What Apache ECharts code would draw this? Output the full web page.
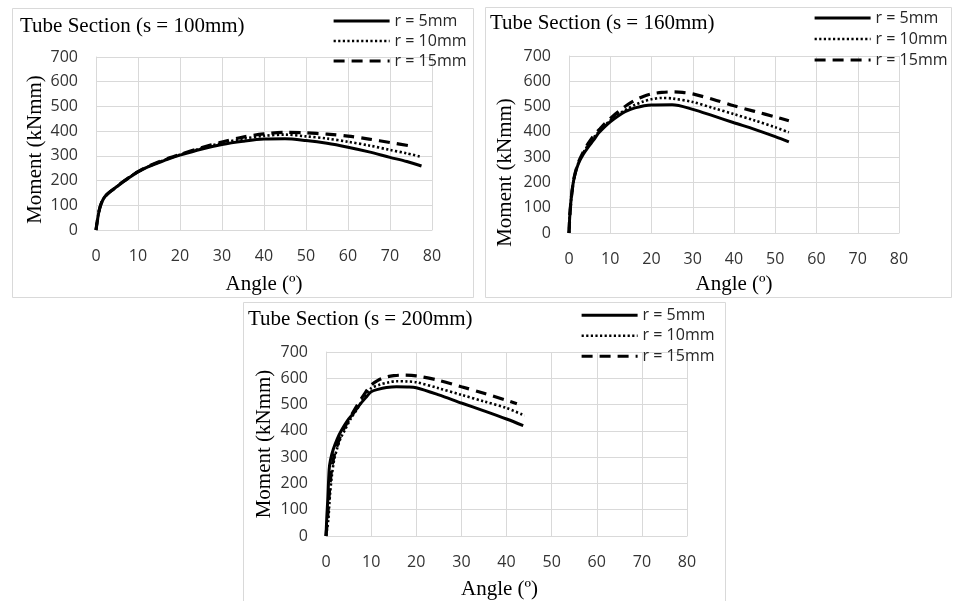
<!DOCTYPE html>
<html>
<head>
<meta charset="utf-8">
<script src="https://cdn.jsdelivr.net/npm/echarts@6/dist/echarts.min.js"></script>
<style>
html,body{margin:0;padding:0;background:#ffffff;}
#chart{width:955px;height:601px;}
</style>
</head>
<body>
<div id="chart"></div>
<script>
// ---------- DATA ----------
const seriesNames = ['r = 5mm', 'r = 10mm', 'r = 15mm'];
const panelTitles = ['Tube Section (s = 100mm)', 'Tube Section (s = 160mm)', 'Tube Section (s = 200mm)'];
const xAxisTitle = 'Angle (º)';
const yAxisTitle = 'Moment (kNmm)';
const xAxisMin = 0, xAxisMax = 80, xAxisStep = 10;
const yAxisMin = 0, yAxisMax = 700, yAxisStep = 100;

// Panel 1: s = 100mm
const s100_r5_x  = [0, 0.3, 0.7, 1.2, 1.8, 2.5, 3.5, 5, 6.5, 8, 10, 12.5, 15, 17.5, 20, 25, 30, 35, 40, 45, 50, 55, 60, 65, 70, 74, 77.5];
const s100_r5_y  = [0, 35, 75, 105, 127, 142, 157, 176, 195, 213, 235, 256, 273, 289, 303, 327, 346, 359, 368, 369, 362, 351, 335, 316, 294, 277, 259];
const s100_r10_x = [0, 0.3, 0.7, 1.2, 1.8, 2.5, 3.5, 5, 6.5, 8, 10, 12.5, 15, 17.5, 20, 25, 30, 35, 40, 45, 50, 55, 60, 65, 70, 74, 77.2];
const s100_r10_y = [0, 35, 75, 105, 127, 142, 157, 176, 196, 214, 236, 257, 275, 291, 305, 330, 352, 369, 381, 386, 379, 370, 357, 342, 324, 310, 297];
const s100_r15_x = [0, 0.3, 0.7, 1.2, 1.8, 2.5, 3.5, 5, 6.5, 8, 10, 12.5, 15, 17.5, 20, 25, 30, 35, 40, 45, 50, 55, 60, 65, 70, 75.3];
const s100_r15_y = [0, 35, 75, 105, 127, 142, 157, 176, 196, 214, 236, 258, 276, 292, 306, 332, 356, 376, 389, 395, 393, 388, 380, 368, 354, 339];

// Panel 2: s = 160mm
const s160_r5_x  = [0, 0.2, 0.5, 1, 1.5, 2.3, 3.5, 4.7, 6, 7.1, 8.5, 10, 12, 13.6, 16, 20, 25, 30, 35, 40, 45, 50, 53.3];
const s160_r5_y  = [0, 70, 130, 196, 235, 275, 312, 341, 368, 394, 418, 440, 464, 480, 495, 506, 507, 489, 463, 436, 410, 381, 360];
const s160_r10_x = [0, 0.2, 0.5, 1, 1.5, 2.3, 3.5, 4.7, 6, 7.5, 9, 10.5, 12, 14, 16, 18, 20, 22.5, 25, 30, 35, 40, 45, 50, 53.3];
const s160_r10_y = [0, 70, 130, 196, 235, 278, 318, 350, 378, 405, 430, 452, 470, 490, 507, 520, 529, 534, 532, 518, 494, 470, 445, 418, 398];
const s160_r15_x = [0, 0.2, 0.5, 1, 1.5, 2.3, 3.5, 4.7, 6, 7.5, 9, 10.5, 12, 14, 16, 18, 20, 22.5, 25, 27.5, 30, 35, 40, 45, 50, 53.3];
const s160_r15_y = [0, 70, 130, 196, 238, 280, 322, 355, 385, 412, 438, 460, 480, 505, 525, 540, 550, 556, 558, 556, 550, 528, 503, 481, 459, 444];

// Panel 3: s = 200mm
const s200_r5_x  = [0, 0.2, 0.4, 0.7, 1, 1.6, 2.5, 3.5, 4.8, 6.1, 7.5, 9, 10, 11.5, 13.4, 15.6, 18, 20, 25, 30, 35, 40, 43.7];
const s200_r5_y  = [0, 80, 140, 253, 290, 329, 370, 404, 440, 467, 500, 530, 549, 558, 565, 568, 567, 564, 537, 506, 476, 445, 420];
const s200_r10_x = [0, 0.5, 0.7, 0.9, 1.3, 1.8, 2.4, 3.2, 4.2, 5.5, 6.8, 8.2, 10, 12, 14, 15.6, 18, 20, 25, 30, 35, 40, 44];
const s200_r10_y = [0, 60, 110, 160, 230, 290, 329, 370, 404, 447, 480, 520, 562, 576, 585, 589, 588, 585, 562, 537, 512, 487, 458];
const s200_r15_x = [0, 0.3, 0.6, 0.9, 1.3, 1.8, 2.5, 3.3, 4.5, 5.8, 7, 8.5, 10, 11.5, 13.4, 15, 17, 20, 25, 30, 35, 40, 42.3];
const s200_r15_y = [0, 60, 130, 200, 260, 305, 345, 385, 425, 465, 500, 540, 574, 592, 605, 610, 612, 609, 592, 568, 543, 516, 503];

// ---------- BUILD ----------
function pairs(xs, ys) { return xs.map((x, i) => [x, ys[i]]); }
const panelData = [
  [pairs(s100_r5_x, s100_r5_y), pairs(s100_r10_x, s100_r10_y), pairs(s100_r15_x, s100_r15_y)],
  [pairs(s160_r5_x, s160_r5_y), pairs(s160_r10_x, s160_r10_y), pairs(s160_r15_x, s160_r15_y)],
  [pairs(s200_r5_x, s200_r5_y), pairs(s200_r10_x, s200_r10_y), pairs(s200_r15_x, s200_r15_y)]
];

const layout = [
  { grid: {left: 96, top: 57, width: 336, height: 173}, box: [12, 8, 461, 289],
    title: [20, 16], legend: [332, 11, 20], yPad: 12, yGap: 50, xGap: 44, xPad: 0 },
  { grid: {left: 569, top: 56, width: 330, height: 177}, box: [485, 7, 466, 290],
    title: [490, 13], legend: [813, 7.5, 21], yPad: 56, yGap: 53, xGap: 41, xPad: 0 },
  { grid: {left: 326, top: 352, width: 361, height: 185}, box: [243, 302, 482, 310],
    title: [248, 309], legend: [580, 305, 20.5], yPad: 0, yGap: 51, xGap: 43, xPad: 14 }
];

const lineStyles = [
  { color: '#000000', width: 3, type: 'solid' },
  { color: '#000000', width: 2.6, type: [2.2, 2.4] },
  { color: '#000000', width: 3.2, type: [11, 7] }
];

const tickFont = { fontFamily: 'Open Sans', fontSize: 16, color: '#333333' };
const serifFont = 'Liberation Serif';

const option = {
  backgroundColor: '#ffffff',
  animation: false,
  title: [], legend: [], grid: [], xAxis: [], yAxis: [], series: [], graphic: []
};

layout.forEach((L, p) => {
  option.graphic.push({
    type: 'rect', silent: true, z: -10,
    shape: { x: L.box[0] + 0.5, y: L.box[1] + 0.5, width: L.box[2], height: L.box[3] },
    style: { fill: 'none', stroke: '#d9d9d9', lineWidth: 1 }
  });
  option.title.push({
    text: panelTitles[p], left: L.title[0], top: L.title[1], padding: 0,
    textStyle: { fontFamily: serifFont, fontSize: 21, fontWeight: 'normal', color: '#000000' }
  });
  option.legend.push({
    data: seriesNames.map((nm, k) => ({
      name: nm,
      lineStyle: { color: '#000000', width: lineStyles[k].width, type: lineStyles[k].type, opacity: 1 }
    })),
    orient: 'vertical', left: L.legend[0], top: L.legend[1],
    padding: 0, itemGap: 0, itemWidth: 56, itemHeight: 14,
    itemStyle: { opacity: 0, borderWidth: 0 },
    textStyle: { fontFamily: 'Open Sans', fontSize: 16, color: '#262626', lineHeight: L.legend[2] },
    selectedMode: false
  });
  option.grid.push(Object.assign({ containLabel: false }, L.grid));
  option.xAxis.push({
    type: 'value', gridIndex: p, min: xAxisMin, max: xAxisMax, interval: xAxisStep,
    name: xAxisTitle, nameLocation: 'middle', nameGap: L.xGap,
    nameTextStyle: { fontFamily: serifFont, fontSize: 21, color: '#000000', padding: [0, L.xPad, 0, 0] },
    axisLine: { show: true, lineStyle: { color: '#d9d9d9', width: 1 } },
    axisTick: { show: false },
    axisLabel: Object.assign({ margin: 18 }, tickFont),
    splitLine: { show: true, lineStyle: { color: '#d9d9d9', width: 1 } }
  });
  option.yAxis.push({
    type: 'value', gridIndex: p, min: yAxisMin, max: yAxisMax, interval: yAxisStep,
    name: yAxisTitle, nameLocation: 'middle', nameGap: L.yGap,
    nameTextStyle: { fontFamily: serifFont, fontSize: 21, color: '#000000', padding: [0, L.yPad, 0, 0] },
    axisLine: { show: true, lineStyle: { color: '#d9d9d9', width: 1 } },
    axisTick: { show: false },
    axisLabel: Object.assign({ margin: 18 }, tickFont),
    splitLine: { show: true, lineStyle: { color: '#d9d9d9', width: 1 } }
  });
  seriesNames.forEach((nm, k) => {
    option.series.push({
      name: nm, type: 'line', xAxisIndex: p, yAxisIndex: p,
      data: panelData[p][k], symbol: 'none', smooth: 0.3,
      lineStyle: lineStyles[k], itemStyle: { color: '#000000' },
      z: 10 - k
    });
  });
});

const chart = echarts.init(document.getElementById('chart'), null, { renderer: 'canvas' });
chart.setOption(option);
</script>
</body>
</html>
